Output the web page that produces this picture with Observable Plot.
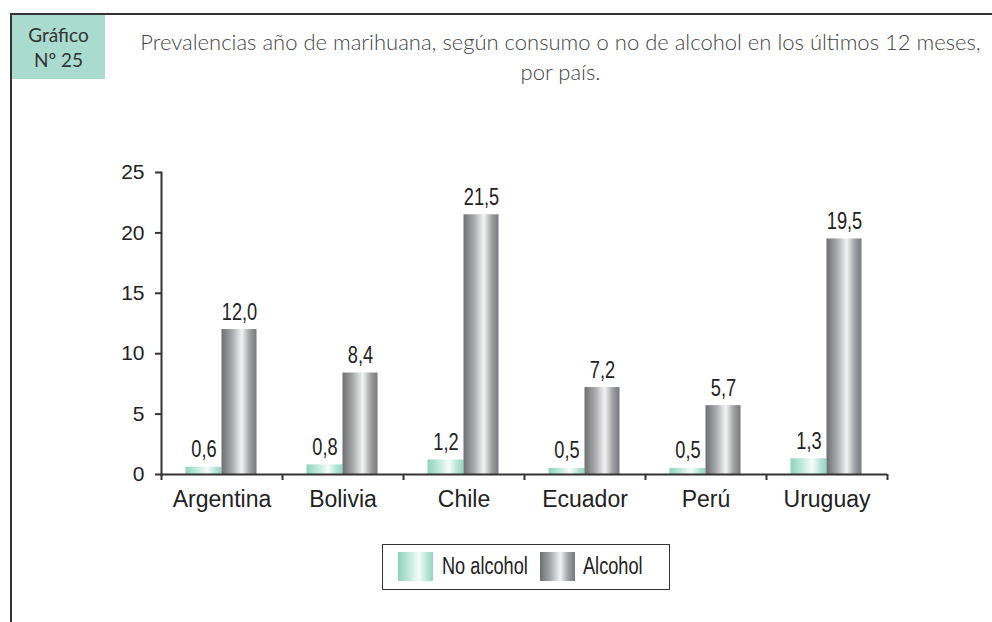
<!DOCTYPE html>
<html><head><meta charset="utf-8">
<script src="https://cdn.jsdelivr.net/npm/d3@7"></script>
<script src="https://cdn.jsdelivr.net/npm/@observablehq/plot@0.6"></script>
<style>
html,body{margin:0;padding:0;background:#fff;width:992px;height:622px;overflow:hidden;position:relative;font-family:"Liberation Sans",Arial,sans-serif;}
#frameTop{position:absolute;left:10px;top:13px;width:982px;height:2px;background:#333;}
#frameLeft{position:absolute;left:10px;top:13px;width:2px;height:609px;background:#333;}
#badge{position:absolute;left:12px;top:15px;width:93px;height:64px;background:#a9dccf;color:#333;font-family:Lato,"Open Sans",sans-serif;font-size:19px;line-height:25px;text-align:center;padding-top:7px;box-sizing:border-box;}
#title{position:absolute;left:120px;top:27px;width:881px;text-align:center;color:#444;font-family:Lato,"Open Sans",sans-serif;font-size:22px;line-height:30px;font-weight:300;}
#chart{position:absolute;left:0;top:0;}
#legend{position:absolute;left:382px;top:544px;width:288px;height:46px;border:1px solid #333;box-sizing:border-box;font-family:"Liberation Sans",Arial,sans-serif;font-size:23px;color:#222;}
.sw{position:absolute;top:7px;width:35px;height:29px;}
.lt{position:absolute;top:7px;line-height:28px;transform:scaleX(0.79);transform-origin:0 50%;white-space:nowrap;}
</style></head>
<body>
<div id="chart"></div>
<div id="frameTop"></div><div id="frameLeft"></div>
<div id="badge">Gráfico<br>Nº 25</div>
<div id="title">Prevalencias año de marihuana, según consumo o no de alcohol en los últimos 12 meses,<br>por país.</div>
<div id="legend">
  <div class="sw" style="left:15px;background:linear-gradient(to right,#8fd3bd 0%,#c5ebdf 35%,#f6fcfa 60%,#b0e2d3 85%,#96d5c1 100%)"></div>
  <div class="lt" style="left:59px">No alcohol</div>
  <div class="sw" style="left:157px;background:linear-gradient(to right,#6d6e70 0%,#a7a9ac 30%,#f4f4f4 58%,#a0a2a5 80%,#77787b 100%)"></div>
  <div class="lt" style="left:200px">Alcohol</div>
</div>
<script>
const countries = ["Argentina","Bolivia","Chile","Ecuador","Perú","Uruguay"];
const noAlcohol = [0.6, 0.8, 1.2, 0.5, 0.5, 1.3];
const alcohol = [12.0, 8.4, 21.5, 7.2, 5.7, 19.5];
const yTicks = [0,5,10,15,20,25];

const dataNo = countries.map((c,i)=>({country:c, value:noAlcohol[i]}));
const dataAl = countries.map((c,i)=>({country:c, value:alcohol[i]}));
const fmt = v => v.toFixed(1).replace(".", ",");
const half = 60.5;

const plot = Plot.plot({
  width: 992, height: 622,
  marginLeft: 161, marginRight: 105, marginTop: 172, marginBottom: 148,
  style: {fontFamily: "'Liberation Sans', Arial, sans-serif", color: "#222", background: "transparent"},
  x: {domain: countries, padding: 0},
  y: {domain: [0, 25]},
  marks: [
    Plot.barY(dataNo, {x: "country", y: "value", fill: "url(#gNo)", insetLeft: 24.5, insetRight: 60.5}),
    Plot.barY(dataAl, {x: "country", y: "value", fill: "url(#gAl)", insetLeft: 60.5, insetRight: 25.5}),
    Plot.text(dataNo, {x: "country", y: "value", text: d => fmt(d.value), dx: -18, dy: -10, lineAnchor: "bottom", fontSize: 24, fill: "#222", className: "vlab"}),
    Plot.text(dataAl, {x: "country", y: "value", text: d => fmt(d.value), dx: 17.5, dy: -10, lineAnchor: "bottom", fontSize: 24, fill: "#222", className: "vlab"}),
    Plot.frame({anchor: "left", stroke: "#333", strokeWidth: 2}),
    Plot.ruleY([0], {stroke: "#333", strokeWidth: 2}),
    Plot.ruleX(countries, {x: d => d, y1: 0, y2: 0, insetBottom: -6, dx: -half, stroke: "#333", strokeWidth: 2}),
    Plot.ruleX([countries[countries.length-1]], {x: d => d, y1: 0, y2: 0, insetBottom: -6, dx: half, stroke: "#333", strokeWidth: 2}),
    Plot.axisY({ticks: yTicks, tickSize: 6, tickPadding: 11, fontSize: 21, stroke: "#333", strokeWidth: 2, label: null}),
    Plot.axisX({tickSize: 0, tickPadding: 16, fontSize: 23, label: null})
  ]
});
document.getElementById("chart").appendChild(plot);
const svg = d3.select(plot);
const defs = svg.insert("defs", ":first-child");
function grad(id, stops){
  const g = defs.append("linearGradient").attr("id", id).attr("x1","0").attr("x2","1").attr("y1","0").attr("y2","0");
  stops.forEach(([o,c]) => g.append("stop").attr("offset", o).attr("stop-color", c));
}
grad("gNo", [["0%","#8fd3bd"],["35%","#c5ebdf"],["60%","#f6fcfa"],["85%","#b0e2d3"],["100%","#96d5c1"]]);
grad("gAl", [["0%","#6d6e70"],["30%","#a7a9ac"],["58%","#f4f4f4"],["80%","#a0a2a5"],["100%","#77787b"]]);
// condense value labels horizontally (narrow font look)
svg.selectAll("g.vlab text").each(function(){
  const t = d3.select(this);
  let x = +(t.attr("x") || 0), y = +(t.attr("y") || 0);
  const tr = t.attr("transform");
  if (tr) { const m = /translate\(([-\d.e]+)[ ,]+([-\d.e]+)\)/.exec(tr); if (m) { x += +m[1]; y += +m[2]; } }
  t.attr("x", null).attr("y", null).attr("transform", `translate(${x},${y}) scale(0.76,1)`);
});
</script>
</body></html>
